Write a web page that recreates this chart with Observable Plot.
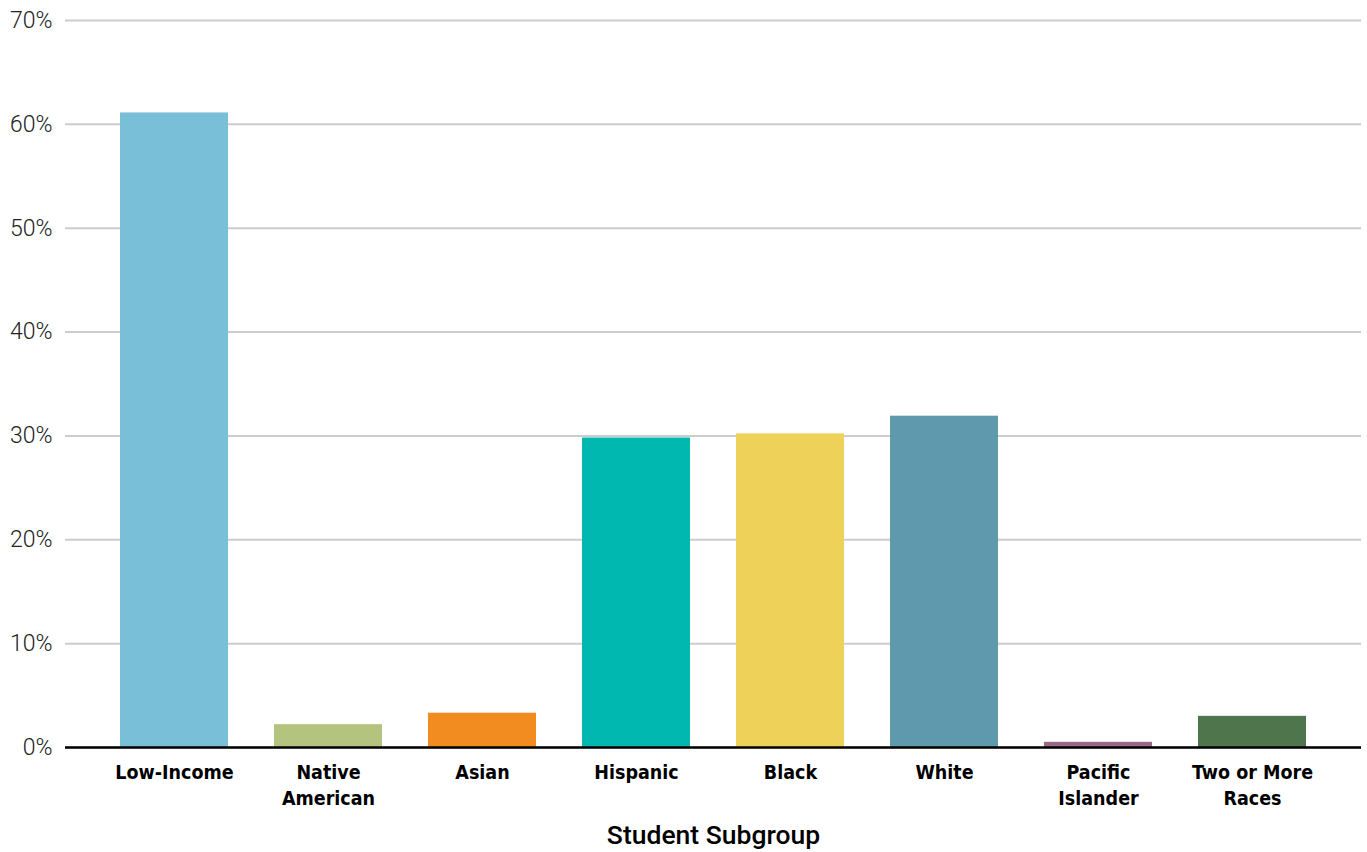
<!DOCTYPE html>
<html>
<head>
<meta charset="utf-8">
<script src="https://cdn.jsdelivr.net/npm/d3@7"></script>
<script src="https://cdn.jsdelivr.net/npm/@observablehq/plot@0.6"></script>
<style>
  html, body { margin: 0; padding: 0; background: #fff; }
  #chart svg { display: block; }
  .xticks text { font-stretch: condensed; }
</style>
</head>
<body>
<div id="chart"></div>
<script>
const categories = ["Low-Income", "Native American", "Asian", "Hispanic", "Black", "White", "Pacific Islander", "Two or More Races"];
const tickLabels = ["Low-Income", "Native\nAmerican", "Asian", "Hispanic", "Black", "White", "Pacific\nIslander", "Two or More\nRaces"];
const values = [0.611, 0.022, 0.033, 0.298, 0.302, 0.319, 0.005, 0.030];
const colors = ["#78BFD7", "#B4C47F", "#F28B20", "#00B8B0", "#EED158", "#5F99AD", "#9A6B87", "#4E754C"];
const yTicks = [0, 0.1, 0.2, 0.3, 0.4, 0.5, 0.6, 0.7];
const xTitle = ["Student Subgroup"];

const data = categories.map((c, i) => ({category: c, value: values[i], color: colors[i]}));
const labelOf = new Map(categories.map((c, i) => [c, tickLabels[i]]));

const chart = Plot.plot({
  width: 1367,
  height: 852,
  marginLeft: 65,
  marginRight: 6,
  marginTop: 20,
  marginBottom: 105,
  style: {fontFamily: "Liberation Sans, Arial, sans-serif", background: "#fff", overflow: "visible"},
  x: {domain: categories, paddingInner: 0.3, paddingOuter: 0.35},
  y: {domain: [0, 0.7]},
  marks: [
    Plot.gridY(yTicks, {stroke: "#cccccc", strokeOpacity: 1, strokeWidth: 2}),
    Plot.barY(data, {x: "category", y: "value", fill: "color"}),
    Plot.ruleY([0], {stroke: "#000", strokeWidth: 2.5}),
    Plot.axisY(yTicks, {
      tickSize: 0, tickPadding: 13, label: null,
      tickFormat: d => Math.round(d * 100) + "%",
      fontSize: 23, fill: "#222", fontWeight: 300,
      fontFamily: "Roboto, Liberation Sans, Arial, sans-serif"
    }),
    Plot.axisX({
      tickSize: 0, tickPadding: 13, label: null,
      tickFormat: d => labelOf.get(d),
      fontSize: 19.5, fontWeight: "bold", fill: "#000", lineHeight: 1.33,
      className: "xticks",
      fontFamily: "DejaVu Sans Condensed, DejaVu Sans, sans-serif"
    }),
    Plot.text(xTitle, {
      text: d => d, frameAnchor: "bottom", dy: 88, lineAnchor: "middle",
      fontSize: 26.5, fontWeight: 500, fill: "#000",
      fontFamily: "Roboto, Liberation Sans, Arial, sans-serif"
    })
  ]
});
document.getElementById("chart").appendChild(chart);
</script>
</body>
</html>
